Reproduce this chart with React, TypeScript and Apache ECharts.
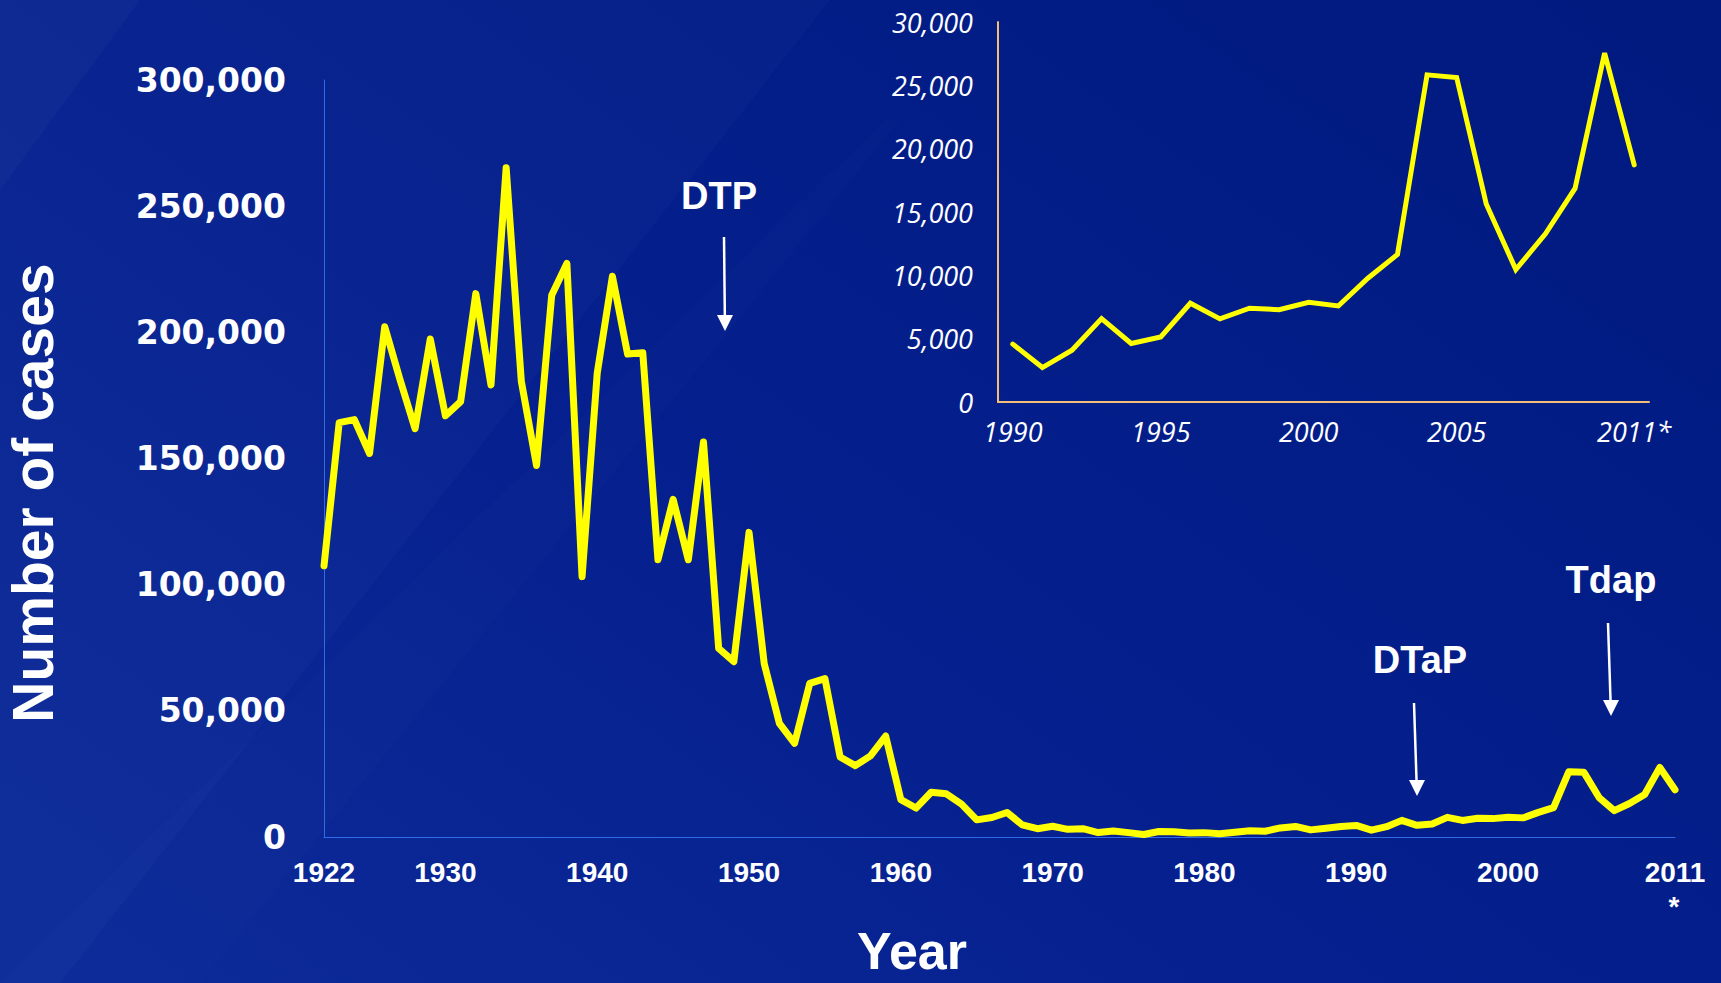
import React, { useEffect, useRef } from "react";
import * as echarts from "echarts";

// Main chart: reported pertussis cases, 1922–2011
const years: string[] = [
  "1922","1923","1924","1925","1926","1927","1928","1929","1930","1931",
  "1932","1933","1934","1935","1936","1937","1938","1939","1940","1941",
  "1942","1943","1944","1945","1946","1947","1948","1949","1950","1951",
  "1952","1953","1954","1955","1956","1957","1958","1959","1960","1961",
  "1962","1963","1964","1965","1966","1967","1968","1969","1970","1971",
  "1972","1973","1974","1975","1976","1977","1978","1979","1980","1981",
  "1982","1983","1984","1985","1986","1987","1988","1989","1990","1991",
  "1992","1993","1994","1995","1996","1997","1998","1999","2000","2001",
  "2002","2003","2004","2005","2006","2007","2008","2009","2010","2011",
];

const cases: number[] = [
  107473, 164191, 165418, 152003, 202210, 181411, 161799, 197371, 166914, 172559,
  215343, 179135, 265269, 180518, 147237, 214652, 227319, 103188, 183866, 222202,
  191383, 191890, 109873, 133792, 109860, 156517, 74715, 69479, 120718, 68687,
  45030, 37129, 60886, 62786, 31732, 28295, 32148, 40005, 14809, 11468,
  17749, 17135, 13005, 6799, 7717, 9718, 4810, 3285, 4249, 3036,
  3287, 1759, 2402, 1738, 1010, 2177, 2063, 1623, 1730, 1248,
  1895, 2463, 2276, 3589, 4195, 2823, 3450, 4157, 4570, 2719,
  4083, 6586, 4617, 5137, 7796, 6564, 7405, 7288, 7867, 7580,
  9771, 11647, 25827, 25616, 15632, 10454, 13278, 16858, 27550, 18719,
];

const mainXLabels: string[] = ["1922", "1930", "1940", "1950", "1960", "1970", "1980", "1990", "2000", "2011"];

// Inset chart: 1990–2011
const insetYears: string[] = [
  "1990","1991","1992","1993","1994","1995","1996","1997","1998","1999","2000",
  "2001","2002","2003","2004","2005","2006","2007","2008","2009","2010","2011",
];
const insetCases: number[] = [
  4570, 2719, 4083, 6586, 4617, 5137, 7796, 6564, 7405, 7288, 7867,
  7580, 9771, 11647, 25827, 25616, 15632, 10454, 13278, 16858, 27550, 18719,
];
const insetXLabels: string[] = ["1990", "1995", "2000", "2005", "2011"];

// Vaccine annotations
const annotations = [
  { label: "DTP", tx: 719, ty: 196, x1: 724, y1: 237, x2: 725, y2: 331 },
  { label: "DTaP", tx: 1420, ty: 660, x1: 1414, y1: 703, x2: 1417, y2: 796 },
  { label: "Tdap", tx: 1611, ty: 580, x1: 1608, y1: 623, x2: 1611, y2: 716 },
];

const fmt = (v: number) => v.toLocaleString("en-US");

export default function App() {
  const ref = useRef<HTMLDivElement>(null);

  useEffect(() => {
    if (!ref.current) return;
    const chart = echarts.init(ref.current, undefined, { renderer: "svg" });

    const graphics: any[] = [
      // faint diagonal light streaks of the slide background
      {
        type: "polygon",
        silent: true,
        z: -10,
        shape: { points: [[0, 0], [830, 0], [0, 1060]] },
        style: { fill: "rgba(255,255,255,0.018)" },
      },
      {
        type: "polygon",
        silent: true,
        z: -10,
        shape: { points: [[0, 0], [140, 0], [0, 190]] },
        style: { fill: "rgba(255,255,255,0.025)" },
      },
      {
        type: "polygon",
        silent: true,
        z: -10,
        shape: { points: [[0, 983], [200, 983], [900, 120], [885, 120]] },
        style: { fill: "rgba(255,255,255,0.012)" },
      },
      {
        type: "text",
        x: 33,
        y: 493,
        rotation: Math.PI / 2,
        style: {
          text: "Number of cases",
          fill: "#ffffff",
          font: "bold 57px 'Liberation Sans', Arial, sans-serif",
          align: "center",
          verticalAlign: "middle",
        },
      },
      {
        type: "text",
        x: 912,
        y: 951,
        style: {
          text: "Year",
          fill: "#ffffff",
          font: "bold 52px 'Liberation Sans', Arial, sans-serif",
          align: "center",
          verticalAlign: "middle",
        },
      },
      {
        type: "text",
        x: 1674,
        y: 906,
        style: {
          text: "*",
          fill: "#ffffff",
          font: "bold 28px 'Liberation Sans', Arial, sans-serif",
          align: "center",
          verticalAlign: "middle",
        },
      },
    ];

    annotations.forEach((a) => {
      graphics.push({
        type: "text",
        x: a.tx,
        y: a.ty,
        style: {
          text: a.label,
          fill: "#ffffff",
          font: "bold 38px 'Liberation Sans', Arial, sans-serif",
          align: "center",
          verticalAlign: "middle",
        },
      });
      graphics.push({
        type: "line",
        shape: { x1: a.x1, y1: a.y1, x2: a.x2 - (a.x2 - a.x1) * 0.12, y2: a.y2 - 12 },
        style: { stroke: "#ffffff", lineWidth: 2.5 },
      });
      graphics.push({
        type: "polygon",
        shape: {
          points: [
            [a.x2, a.y2],
            [a.x2 - 8, a.y2 - 16],
            [a.x2 + 8, a.y2 - 16],
          ],
        },
        style: { fill: "#ffffff" },
      });
    });

    const option: any = {
      animation: false,
      backgroundColor: new echarts.graphic.LinearGradient(0, 0.9, 1, 0.1, [
        { offset: 0, color: "#0C2A98" },
        { offset: 0.45, color: "#05208E" },
        { offset: 1, color: "#001A80" },
      ]),
      grid: [
        { left: 324, top: 80, width: 1351, height: 757 },
        { left: 998, top: 22, width: 651, height: 380 },
      ],
      xAxis: [
        {
          type: "category",
          gridIndex: 0,
          data: years,
          boundaryGap: false,
          axisLine: { lineStyle: { color: "#2F6BE6", width: 1 } },
          axisTick: { show: false },
          splitLine: { show: false },
          axisLabel: {
            interval: (_i: number, v: string) => mainXLabels.includes(v),
            color: "#ffffff",
            fontFamily: "'Liberation Sans', Arial, sans-serif",
            fontWeight: "bold",
            fontSize: 28,
            margin: 21,
          },
        },
        {
          type: "category",
          gridIndex: 1,
          data: insetYears,
          boundaryGap: true,
          axisLine: { lineStyle: { color: "#F4BE78", width: 2 } },
          axisTick: { show: false },
          splitLine: { show: false },
          axisLabel: {
            interval: (_i: number, v: string) => insetXLabels.includes(v),
            formatter: (v: string) => (v === "2011" ? "2011*" : v),
            color: "#ffffff",
            fontFamily: "'Open Sans', 'Noto Sans', sans-serif",
            fontStyle: "italic",
            fontSize: 27,
            margin: 16,
          },
        },
      ],
      yAxis: [
        {
          type: "value",
          gridIndex: 0,
          min: 0,
          max: 300000,
          interval: 50000,
          axisLine: { show: true, lineStyle: { color: "#2F6BE6", width: 1 } },
          axisTick: { show: false },
          splitLine: { show: false },
          axisLabel: {
            formatter: fmt,
            color: "#ffffff",
            fontFamily: "'DejaVu Sans', sans-serif",
            fontWeight: "bold",
            fontSize: 33,
            margin: 38,
          },
        },
        {
          type: "value",
          gridIndex: 1,
          min: 0,
          max: 30000,
          interval: 5000,
          axisLine: { show: true, lineStyle: { color: "#F4BE78", width: 2 } },
          axisTick: { show: false },
          splitLine: { show: false },
          axisLabel: {
            formatter: fmt,
            color: "#ffffff",
            fontFamily: "'Open Sans', 'Noto Sans', sans-serif",
            fontStyle: "italic",
            fontSize: 27,
            margin: 25,
          },
        },
      ],
      series: [
        {
          type: "line",
          xAxisIndex: 0,
          yAxisIndex: 0,
          data: cases,
          symbol: "none",
          lineStyle: { color: "#FFFF00", width: 7, cap: "round", join: "round" },
          z: 3,
        },
        {
          type: "line",
          xAxisIndex: 1,
          yAxisIndex: 1,
          data: insetCases,
          symbol: "none",
          lineStyle: { color: "#FFFF00", width: 5, cap: "round", join: "miter" },
          z: 3,
        },
      ],
      graphic: graphics,
    };

    chart.setOption(option);
    return () => chart.dispose();
  }, []);

  return (
    <div
      ref={ref}
      style={{ position: "absolute", left: 0, top: 0, width: 1721, height: 983 }}
    />
  );
}
